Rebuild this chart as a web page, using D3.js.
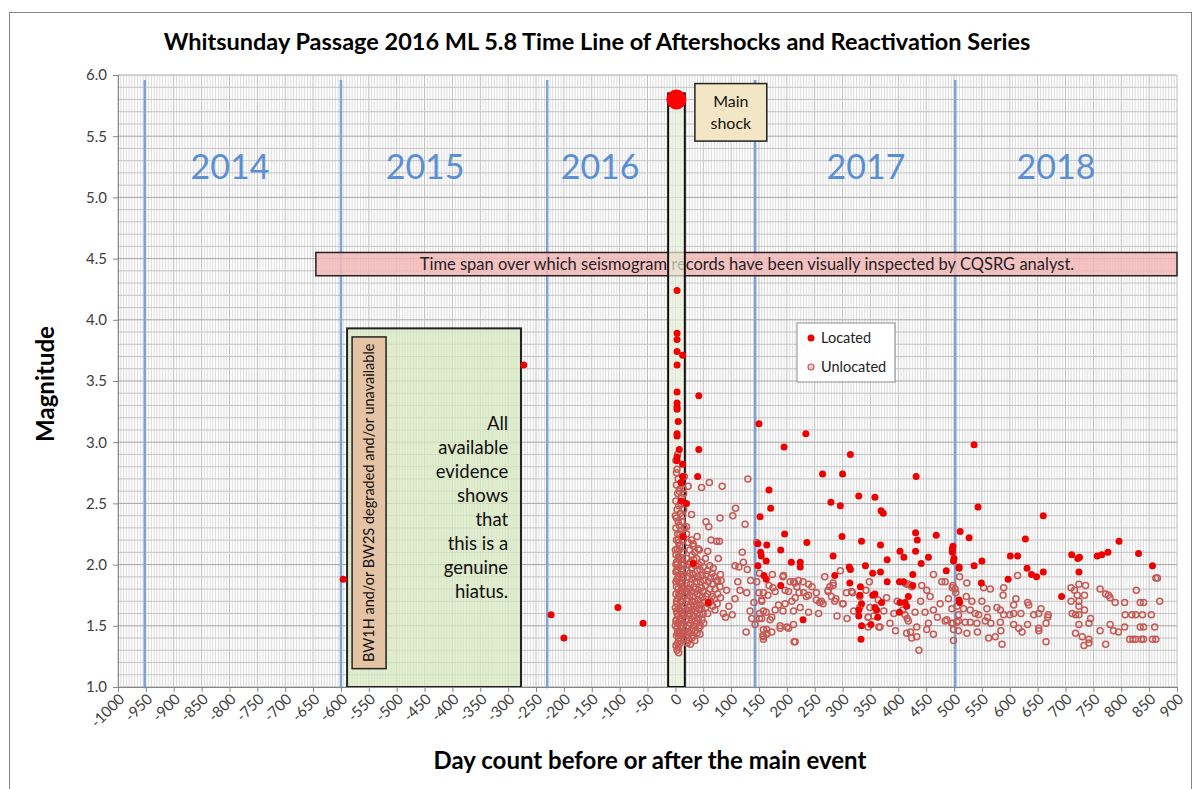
<!DOCTYPE html>
<html>
<head>
<meta charset="utf-8">
<script src="https://cdnjs.cloudflare.com/ajax/libs/d3/7.8.5/d3.min.js"></script>
<style>
  body { margin: 0; background: #fff; }
  svg { display: block; font-family: Lato, "Open Sans", sans-serif; }
</style>
</head>
<body>
<svg id="chart" width="1196" height="789"></svg>
<script>
// tick labels
var xTicks = [-1000,-950,-900,-850,-800,-750,-700,-650,-600,-550,-500,-450,-400,-350,-300,-250,-200,-150,-100,-50,
  0,50,100,150,200,250,300,350,400,450,500,550,600,650,700,750,800,850,900];
var yTicks = [1.0,1.5,2.0,2.5,3.0,3.5,4.0,4.5,5.0,5.5,6.0];

// year boundaries (day count) and labels
var yearLines = [-952, -600, -230, 143, 502];
var yearNames = ['2014', '2015', '2016', '2017', '2018'];
var yearLabelDays = [-799, -449, -135, 342, 683];

var mainShock = [[0, 5.8]];

// located events [day, magnitude]
var located = [
  [-596,1.88],[-272,3.63],[-223,1.59],[-200,1.40],[-103,1.65],[-58,1.52],
  [3,4.24],[3,3.89],[3,3.84],[3,3.74],[13,3.71],[3,3.63],[3,3.41],[3,3.32],[3,3.29],[3,3.27],
  [5,3.17],[3,3.07],[3,3.05],[7,2.94],[3,2.88],[3,2.85],[13,2.82],[13,2.72],[10,2.67],[10,2.52],
  [20,2.50],[14,2.23],[42,3.38],[42,2.94],[40,2.72],[32,2.01],[59,1.69],
  [150,3.15],[168,2.61],[171,2.46],[152,2.39],[148,2.17],[164,2.16],[153,2.10],[154,2.07],[163,2.03],
  [148,1.99],[159,1.91],[163,1.88],
  [195,2.96],[234,3.07],[196,2.25],[189,2.12],[208,2.02],[224,2.02],[224,1.98],[236,2.18],[189,1.83],[229,1.55],
  [279,2.51],[296,2.48],[264,2.74],[299,2.23],[283,2.07],[286,1.91],[300,2.74],[314,2.90],[329,2.56],
  [358,2.55],[369,2.44],[373,2.42],[312,1.98],[314,1.96],[334,2.19],[341,1.99],[368,2.16],[380,2.04],
  [354,1.93],[368,1.94],[380,1.86],[313,1.85],[332,1.82],[331,1.75],[354,1.75],[358,1.76],[334,1.68],
  [358,1.65],[361,1.63],[370,1.69],[329,1.63],[329,1.58],[363,1.57],[334,1.50],[351,1.51],[333,1.39],
  [403,2.11],[410,2.06],[426,1.92],[402,1.86],[418,1.74],[403,1.69],[412,1.69],[415,1.66],[402,1.61],
  [432,2.72],[431,2.26],[434,2.20],[431,2.11],[454,2.06],[441,2.01],[426,1.83],[409,1.86],[468,2.24],
  [498,2.15],[497,2.11],[500,2.05],[509,1.98],[486,1.95],[509,1.71],
  [536,2.98],[543,2.47],[511,2.27],[527,2.22],[497,2.13],[497,2.10],[499,2.03],[550,2.03],[536,1.99],
  [509,1.97],[549,1.85],[510,1.69],
  [601,2.07],[614,2.07],[631,1.97],[639,1.92],[648,1.90],[660,1.94],[597,1.88],[628,2.21],[660,2.40],
  [693,1.74],[711,2.08],[722,2.05],[725,2.06],[724,1.94],[757,2.07],[765,2.08],[776,2.10],[796,2.19],
  [831,2.09],[856,1.99]
];

// unlocated events [day, magnitude]
var unlocated = [
  // main shock window
  [1,2.85],[3,2.78],[5,2.7],[2,2.65],[8,2.62],[4,2.58],[11,2.55],[1,2.52],[6,2.48],[3,2.45],[9,2.42],[13,2.4],
  [2,2.38],[5,2.35],[7,2.32],[1,2.3],[10,2.28],[4,2.25],[12,2.23],[2,2.2],[6,2.18],[8,2.15],[3,2.13],[14,2.1],
  [1,2.08],[5,2.06],[9,2.04],[2,2.02],[11,2.0],[7,1.98],[4,1.96],[1,1.94],[13,1.92],[6,1.9],[3,1.88],[8,1.86],
  [10,1.84],[2,1.82],[5,1.8],[12,1.78],[1,1.76],[7,1.74],[4,1.72],[9,1.7],[3,1.68],[14,1.66],[6,1.64],[2,1.62],
  [11,1.6],[5,1.58],[8,1.56],[1,1.54],[4,1.52],[10,1.5],[3,1.48],[7,1.46],[13,1.44],[2,1.42],[6,1.4],[9,1.38],
  [4,1.36],[1,1.34],[5,1.32],[3,1.3],[6,1.28],[7,2.6],[10,2.5],[12,2.35],[14,2.2],[0,2.12],[6,2.05],[11,1.95],
  [13,1.85],[9,1.78],[11,1.7],[0,1.65],[13,1.58],[12,1.5],[10,1.42],[8,1.45],[7,1.35],[2,1.55],[4,1.88],[8,2.25],
  [0,2.4],[12,2.05],[14,1.9],[10,1.62],[6,1.52],[4,1.44],[1,1.86],[3,2.0],[5,2.2],[7,2.12],[9,1.92],[11,1.82],
  [13,1.72],[2,1.7],[8,1.62],[12,1.64],[14,1.52],[0,1.5],[5,1.45],[9,1.55],[11,1.48],[6,1.76],[3,1.6],[1,2.0],
  [2,1.95],[15,2.45],[16,2.72],[15,2.58],[16,2.3],[15,2.0],[4,2.9],[2,2.75],[14,2.62],[16,1.8],[16,1.6],[15,1.4],
  // first weeks after
  [23,2.64],[47,2.63],[61,2.67],[84,2.64],[130,2.70],[29,2.41],[55,2.35],[60,2.31],[80,2.38],[103,2.40],
  [108,2.46],[125,2.33],[20,2.31],[39,2.23],[64,2.20],[74,2.19],[79,2.19],[32,2.17],[43,2.12],[58,2.11],
  [77,2.05],[68,1.97],[81,1.92],[76,1.87],[82,1.87],[92,1.79],[107,1.99],[114,1.98],[120,2.10],[122,2.02],
  [129,1.96],[135,1.87],[112,1.86],[116,1.79],[107,1.72],[128,1.77],[86,1.60],[102,1.59],[127,1.45],[134,1.62],
  [137,1.56],[146,2.18],[151,1.93],[146,1.86],[150,1.77],[155,1.70],[141,1.69],[151,1.60],[143,1.51],[157,1.42],
  [164,1.47],
  [20,2.25],[20,2.05],[21,1.95],[20,1.85],[21,1.78],[20,1.70],[21,1.62],[20,1.55],[21,1.48],[20,1.42],[21,1.36],
  [23,2.18],[24,2.0],[23,1.9],[24,1.8],[23,1.72],[24,1.65],[23,1.58],[24,1.5],[23,1.45],[24,1.38],
  [26,2.12],[27,2.02],[26,1.93],[27,1.84],[26,1.75],[27,1.67],[26,1.6],[27,1.52],[26,1.44],[27,1.35],
  [29,2.2],[30,2.08],[29,1.97],[30,1.88],[29,1.78],[30,1.7],[29,1.63],[30,1.55],[29,1.47],[30,1.4],
  [32,2.15],[33,2.04],[32,1.92],[33,1.82],[32,1.74],[33,1.66],[32,1.58],[33,1.5],[32,1.42],
  [35,2.1],[36,1.99],[35,1.89],[36,1.8],[35,1.7],[36,1.62],[35,1.54],[36,1.46],[35,1.38],
  [38,2.05],[39,1.95],[38,1.86],[39,1.76],[38,1.68],[39,1.6],[38,1.52],[39,1.44],
  [41,2.13],[42,2.0],[41,1.9],[42,1.79],[41,1.71],[42,1.64],[41,1.56],[42,1.48],
  [44,1.96],[45,1.86],[44,1.75],[45,1.67],[44,1.59],[45,1.5],[44,1.43],
  [47,2.02],[48,1.91],[47,1.81],[48,1.73],[47,1.64],[48,1.55],
  [50,1.98],[51,1.87],[50,1.78],[51,1.69],[50,1.6],[51,1.52],
  [54,2.05],[55,1.92],[54,1.83],[55,1.74],[54,1.65],
  [58,1.95],[59,1.86],[58,1.76],[59,1.68],[58,1.6],
  [62,1.99],[63,1.89],[62,1.8],[63,1.7],
  [66,1.93],[67,1.84],[66,1.74],[67,1.66],
  [70,1.9],[71,1.8],[70,1.72],[71,1.63],
  [75,1.86],[76,1.76],[75,1.68],[80,1.82],[81,1.73],[90,1.57],[96,1.66],
  // months after
  [174,1.92],[193,1.90],[212,1.86],[221,1.87],[239,1.84],[218,1.82],[203,1.78],[197,1.79],[168,1.83],[175,1.81],
  [158,1.77],[166,1.75],[155,1.71],[185,1.67],[197,1.68],[209,1.70],[215,1.73],[230,1.77],[239,1.75],[253,1.71],
  [259,1.69],[265,1.68],[274,1.78],[280,1.74],[286,1.70],[296,1.95],[301,1.68],[307,1.77],[316,1.78],[283,1.83],
  [277,1.82],[179,1.63],[193,1.62],[212,1.62],[224,1.65],[239,1.61],[257,1.60],[163,1.61],[155,1.56],[170,1.55],
  [188,1.50],[203,1.48],[212,1.51],[158,1.47],[164,1.43],[173,1.45],[158,1.39],[213,1.37],[348,1.86],[342,1.79],
  [331,1.74],[349,1.65],[346,1.57],[367,1.49],[346,1.49],[364,1.71],[379,1.73],[415,1.84],[424,1.82],[442,1.83],
  [451,1.79],[457,1.74],[463,1.92],[478,1.86],[484,1.86],[498,1.83],[502,1.80],[505,1.66],[498,1.52],[487,1.55],
  [475,1.68],[463,1.63],[448,1.61],[430,1.61],[412,1.59],[408,1.63],[418,1.54],[433,1.49],[451,1.47],[463,1.43],
  [437,1.30],[415,1.44],[424,1.40],[454,1.52],[499,1.47],[484,1.54],[508,1.54],
  [194,1.91],[179,1.78],[206,1.86],[214,1.85],[229,1.86],[222,1.77],[235,1.74],[253,1.77],[262,1.70],[274,1.79],
  [283,1.85],[288,1.72],[300,1.68],[318,1.77],[331,1.65],[346,1.57],[365,1.49],[412,1.85],[419,1.84],[416,1.56],
  [422,1.45],[433,1.41],[215,1.37],[188,1.48],[200,1.49],[173,1.57],[158,1.62],[151,1.56],[164,1.44],[158,1.41],
  [245,1.82],[268,1.90],[320,1.62],[308,1.56],[290,1.58],[392,1.60],[385,1.52],[398,1.70],[374,1.62],[440,1.70],
  [470,1.57],[490,1.72],[395,1.46],[356,1.58],
  // 2018
  [510,1.90],[523,1.85],[497,1.81],[503,1.77],[522,1.74],[532,1.70],[550,1.70],[553,1.81],[565,1.80],[589,1.81],
  [588,1.75],[611,1.72],[614,1.91],[607,1.67],[632,1.69],[634,1.67],[656,1.64],[669,1.59],[668,1.57],[496,1.64],
  [508,1.59],[517,1.64],[529,1.63],[538,1.60],[544,1.59],[559,1.64],[560,1.57],[577,1.65],[583,1.63],[589,1.59],
  [600,1.59],[607,1.60],[620,1.60],[643,1.59],[652,1.60],[496,1.52],[505,1.53],[520,1.53],[529,1.53],[541,1.52],
  [556,1.54],[566,1.52],[583,1.53],[607,1.51],[632,1.51],[652,1.48],[665,1.52],[508,1.46],[523,1.44],[542,1.45],
  [562,1.40],[574,1.41],[584,1.46],[586,1.35],[616,1.48],[622,1.45],[652,1.46],[665,1.37],[499,1.38],
  [710,1.81],[716,1.79],[724,1.84],[736,1.83],[734,1.75],[721,1.75],[710,1.70],[724,1.70],[724,1.66],[712,1.60],
  [718,1.59],[724,1.59],[734,1.63],[745,1.56],[742,1.52],[724,1.51],[718,1.44],[730,1.41],[742,1.39],[733,1.34],
  [742,1.36],[762,1.80],[772,1.76],[780,1.73],[789,1.69],[777,1.75],[762,1.46],[780,1.51],[786,1.46],[795,1.45],
  [772,1.35],[806,1.69],[827,1.79],[834,1.69],[840,1.69],[807,1.59],[819,1.59],[826,1.59],[838,1.59],[854,1.59],
  [806,1.49],[834,1.49],[840,1.49],[860,1.49],[815,1.39],[821,1.39],[826,1.39],[836,1.39],[840,1.39],[856,1.39],
  [862,1.39],[862,1.89],[865,1.89],[869,1.70]
];

var svg = d3.select('#chart');
var plot = {left: 118, right: 1177, top: 75, bottom: 687};

var x = d3.scaleLinear().domain([-1000, 900]).range([plot.left, plot.right]);
var y = d3.scaleLinear().domain([1, 6]).range([plot.bottom, plot.top]);

// outer chart border
svg.append('rect')
  .attr('x', 9.5).attr('y', 12.5).attr('width', 1182).attr('height', 790)
  .attr('fill', '#fff').attr('stroke', '#868686');

// title
svg.append('text')
  .attr('x', 597).attr('y', 50)
  .attr('text-anchor', 'middle')
  .attr('font-size', 23.5).attr('font-weight', 'bold')
  .text('Whitsunday Passage 2016 ML 5.8 Time Line of Aftershocks and Reactivation Series');

// gridlines
var grid = svg.append('g');
grid.selectAll('line.vmin')
  .data(d3.range(-1000, 901, 5))
  .enter().append('line')
  .attr('x1', function(d) { return x(d); }).attr('x2', function(d) { return x(d); })
  .attr('y1', plot.top).attr('y2', plot.bottom)
  .attr('stroke', function(d) { return d % 50 === 0 ? '#bdbdbd' : '#dcdcdc'; })
  .attr('stroke-width', 1);
grid.selectAll('line.hmin')
  .data(d3.range(10, 61, 1))
  .enter().append('line')
  .attr('x1', plot.left).attr('x2', plot.right)
  .attr('y1', function(d) { return y(d / 10); }).attr('y2', function(d) { return y(d / 10); })
  .attr('stroke', function(d) { return d % 5 === 0 ? '#a6a6a6' : '#c4c4c4'; })
  .attr('stroke-width', 1);

// year boundary lines
svg.selectAll('line.year')
  .data(yearLines)
  .enter().append('line')
  .attr('x1', function(d) { return x(d); }).attr('x2', function(d) { return x(d); })
  .attr('y1', y(5.96)).attr('y2', y(0.99))
  .attr('stroke', '#7ea3d3').attr('stroke-width', 2.5);

svg.selectAll('text.year')
  .data(yearNames)
  .enter().append('text')
  .attr('x', function(d, i) { return x(yearLabelDays[i]); })
  .attr('y', y(5.15))
  .attr('text-anchor', 'middle')
  .attr('font-size', 34)
  .attr('fill', '#5b8fd3')
  .text(function(d) { return d; });

// hiatus box
svg.append('rect')
  .attr('x', x(-589)).attr('y', y(3.93))
  .attr('width', x(-277) - x(-589)).attr('height', y(1.0) - y(3.93))
  .attr('fill', '#d8e8c0').attr('fill-opacity', 0.75)
  .attr('stroke', '#222').attr('stroke-width', 2);
var hiatusLines = ['All', 'available', 'evidence', 'shows', 'that', 'this is a', 'genuine', 'hiatus.'];
svg.append('text')
  .attr('font-size', 18.5).attr('fill', '#111').attr('text-anchor', 'end')
  .selectAll('tspan').data(hiatusLines).enter().append('tspan')
  .attr('x', x(-300))
  .attr('y', function(d, i) { return 430 + i * 24; })
  .text(function(d) { return d; });

svg.append('rect')
  .attr('x', x(-580)).attr('y', y(3.86))
  .attr('width', x(-519) - x(-580)).attr('height', y(1.15) - y(3.86))
  .attr('fill', '#e4c4a4').attr('stroke', '#222').attr('stroke-width', 1.5);
svg.append('text')
  .attr('transform', 'translate(' + (x(-549.5) + 5) + ',' + ((y(3.86) + y(1.15)) / 2) + ') rotate(-90)')
  .attr('text-anchor', 'middle').attr('font-size', 14.5).attr('fill', '#111')
  .text('BW1H and/or BW2S degraded and/or unavailable');

// inspected time span banner
svg.append('rect')
  .attr('x', x(-645)).attr('y', y(4.55))
  .attr('width', x(900) - x(-645)).attr('height', y(4.36) - y(4.55))
  .attr('fill', '#f4b8b8').attr('fill-opacity', 0.85)
  .attr('stroke', '#222').attr('stroke-width', 1.5);
svg.append('text')
  .attr('x', 747).attr('y', y(4.455) + 5.5)
  .attr('text-anchor', 'middle').attr('font-size', 16.5).attr('fill', '#222')
  .text('Time span over which seismogram records have been visually inspected by CQSRG analyst.');

// main shock window
svg.append('rect')
  .attr('x', x(-13)).attr('y', y(5.85))
  .attr('width', x(17) - x(-13)).attr('height', y(1.0) - y(5.85))
  .attr('fill', '#e8f0dc').attr('fill-opacity', 0.7)
  .attr('stroke', '#111').attr('stroke-width', 2);

// points
svg.append('g').selectAll('circle')
  .data(unlocated)
  .enter().append('circle')
  .attr('cx', function(d) { return x(d[0]); })
  .attr('cy', function(d) { return y(d[1]); })
  .attr('r', 3)
  .attr('fill', 'none')
  .attr('stroke', '#c55a55').attr('stroke-width', 1.5);

svg.append('g').selectAll('circle')
  .data(located)
  .enter().append('circle')
  .attr('cx', function(d) { return x(d[0]); })
  .attr('cy', function(d) { return y(d[1]); })
  .attr('r', 3.5)
  .attr('fill', '#ee0000');

svg.selectAll('circle.main')
  .data(mainShock)
  .enter().append('circle')
  .attr('cx', function(d) { return x(d[0]) + 1; })
  .attr('cy', function(d) { return y(d[1]); })
  .attr('r', 10)
  .attr('fill', '#ff0000');

// main shock label
svg.append('rect')
  .attr('x', x(35)).attr('y', y(5.93))
  .attr('width', x(164) - x(35)).attr('height', y(5.46) - y(5.93))
  .attr('fill', '#f2e6c4').attr('stroke', '#222').attr('stroke-width', 1.5);
svg.append('text')
  .attr('font-size', 16).attr('text-anchor', 'middle').attr('fill', '#111')
  .selectAll('tspan').data(['Main', 'shock']).enter().append('tspan')
  .attr('x', x(99.5))
  .attr('y', function(d, i) { return 107 + i * 22; })
  .text(function(d) { return d; });

// axes
var yAxis = d3.axisLeft(y).tickValues(yTicks).tickFormat(d3.format('.1f')).tickSize(5).tickPadding(6);
var gy = svg.append('g').attr('transform', 'translate(' + plot.left + ',0)').call(yAxis);
gy.select('.domain').attr('stroke', '#868686');
gy.selectAll('.tick line').attr('stroke', '#868686');
gy.selectAll('.tick text').attr('font-size', 15).attr('fill', '#404040').attr('font-family', 'Lato, sans-serif');

var xAxis = d3.axisBottom(x).tickValues(xTicks).tickSize(5).tickFormat(function(d) { return d; });
var gx = svg.append('g').attr('transform', 'translate(0,' + plot.bottom + ')').call(xAxis);
gx.select('.domain').attr('stroke', '#868686');
gx.selectAll('.tick line').attr('stroke', '#868686');
gx.selectAll('.tick text')
  .attr('font-size', 15).attr('fill', '#404040').attr('font-family', 'Lato, sans-serif')
  .attr('text-anchor', 'end')
  .attr('dy', null).attr('y', null)
  .attr('transform', 'translate(7,13) rotate(-45)');

// axis titles
svg.append('text')
  .attr('transform', 'translate(54,384) rotate(-90)')
  .attr('text-anchor', 'middle').attr('font-size', 24).attr('font-weight', 'bold')
  .text('Magnitude');
svg.append('text')
  .attr('x', 650).attr('y', 769)
  .attr('text-anchor', 'middle').attr('font-size', 24).attr('font-weight', 'bold')
  .text('Day count before or after the main event');

// legend
var legend = svg.append('g').attr('transform', 'translate(797,323)');
legend.append('rect').attr('width', 98).attr('height', 59)
  .attr('fill', '#fff').attr('stroke', '#8c8c8c');
legend.append('circle').attr('cx', 14).attr('cy', 15).attr('r', 3.5).attr('fill', '#ee0000');
legend.append('text').attr('x', 24).attr('y', 20).attr('font-size', 14.5).attr('fill', '#222').text('Located');
legend.append('circle').attr('cx', 14).attr('cy', 44).attr('r', 3)
  .attr('fill', '#e8d0d0').attr('stroke', '#c55a55').attr('stroke-width', 1.2);
legend.append('text').attr('x', 24).attr('y', 49).attr('font-size', 14.5).attr('fill', '#222').text('Unlocated');
</script>
</body>
</html>
